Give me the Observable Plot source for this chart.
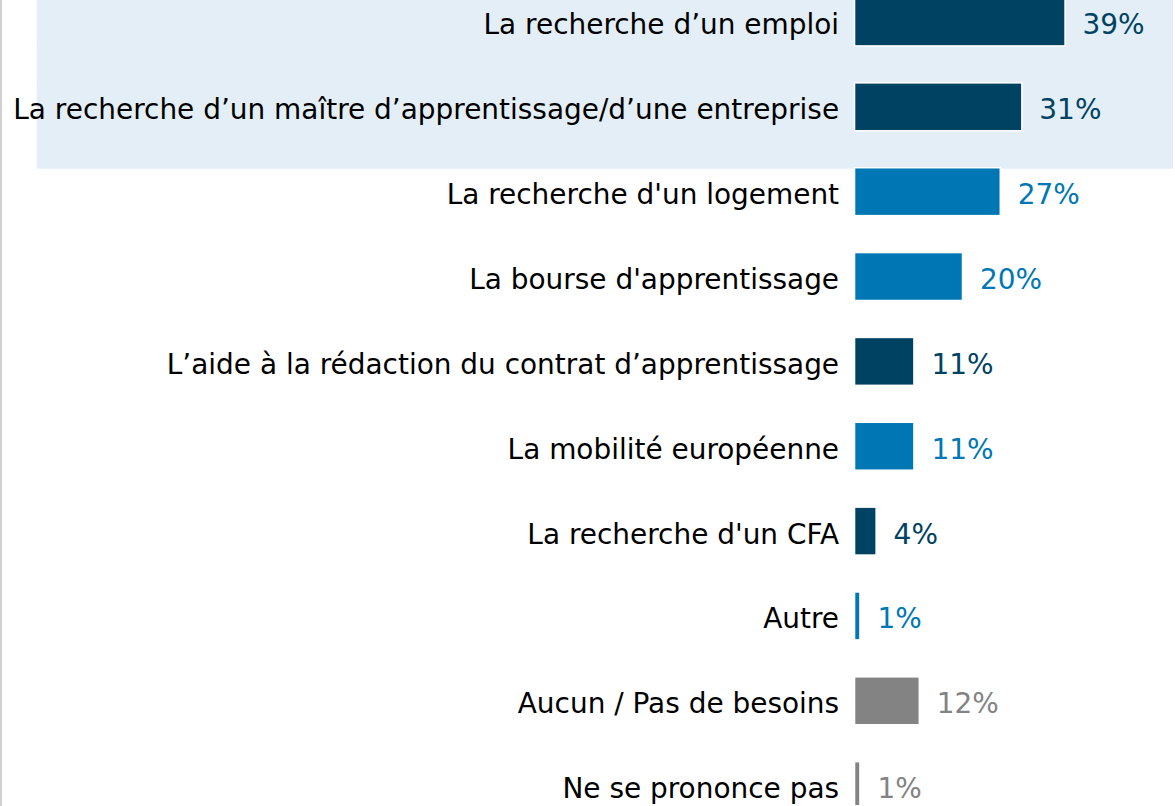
<!DOCTYPE html>
<html>
<head>
<meta charset="utf-8">
<script src="https://cdn.jsdelivr.net/npm/d3@7"></script>
<script src="https://cdn.jsdelivr.net/npm/@observablehq/plot@0.6"></script>
<style>
  html, body { margin: 0; padding: 0; background: #fff; overflow: hidden; }
  #chart { width: 1175px; height: 806px; box-sizing: border-box; border-left: 2px solid #d0d0d0; overflow: hidden; }
  #chart svg { display: block; margin-left: -2px; }
</style>
</head>
<body>
<div id="chart"></div>
<script>
const categories = [
  "La recherche d’un emploi",
  "La recherche d’un maître d’apprentissage/d’une entreprise",
  "La recherche d'un logement",
  "La bourse d'apprentissage",
  "L’aide à la rédaction du contrat d’apprentissage",
  "La mobilité européenne",
  "La recherche d'un CFA",
  "Autre",
  "Aucun / Pas de besoins",
  "Ne se prononce pas"
];
const values = [39, 31, 27, 20, 11, 11, 4, 1, 12, 1];
const groups = ["dark", "dark", "blue", "blue", "dark", "blue", "dark", "blue", "grey", "grey"];
const groupNames = ["dark", "blue", "grey"];
const groupColors = ["#004262", "#0077b5", "#838383"];
const highlightRows = ["La recherche d’un emploi", "La recherche d’un maître d’apprentissage/d’une entreprise"];
const highlightSpan = [-151.5, 59];

const data = categories.map((c, i) => ({label: c, value: values[i], group: groups[i]}));

const chart = Plot.plot({
  width: 1175,
  height: 806,
  marginLeft: 856,
  marginRight: 0,
  marginTop: 0,
  marginBottom: 0,
  style: {fontFamily: "'DejaVu Sans', Verdana, sans-serif", background: "transparent"},
  x: {domain: [0, 59], range: [856, 1175], axis: null},
  y: {domain: categories, range: [-23.8, 831.7], paddingInner: 0.44, paddingOuter: 0.22, label: null},
  color: {domain: groupNames, range: groupColors},
  marks: [
    Plot.barX(highlightRows, {x1: highlightSpan[0], x2: highlightSpan[1], y: d => d, fill: "#e4eef6", insetTop: -40, insetBottom: -38}),
    Plot.barX(data, {x: "value", y: "label", fill: "group", stroke: "#fff", strokeWidth: 1.5}),
    Plot.text(data, {x: "value", y: "label", text: d => d.value + "%", fill: "group", textAnchor: "start", dx: 17, dy: 3, fontSize: 28}),
    Plot.axisY({tickSize: 0, tickPadding: 16, fontSize: 28, dy: 3, color: "#000", label: null})
  ]
});
document.getElementById("chart").appendChild(chart);
</script>
</body>
</html>
